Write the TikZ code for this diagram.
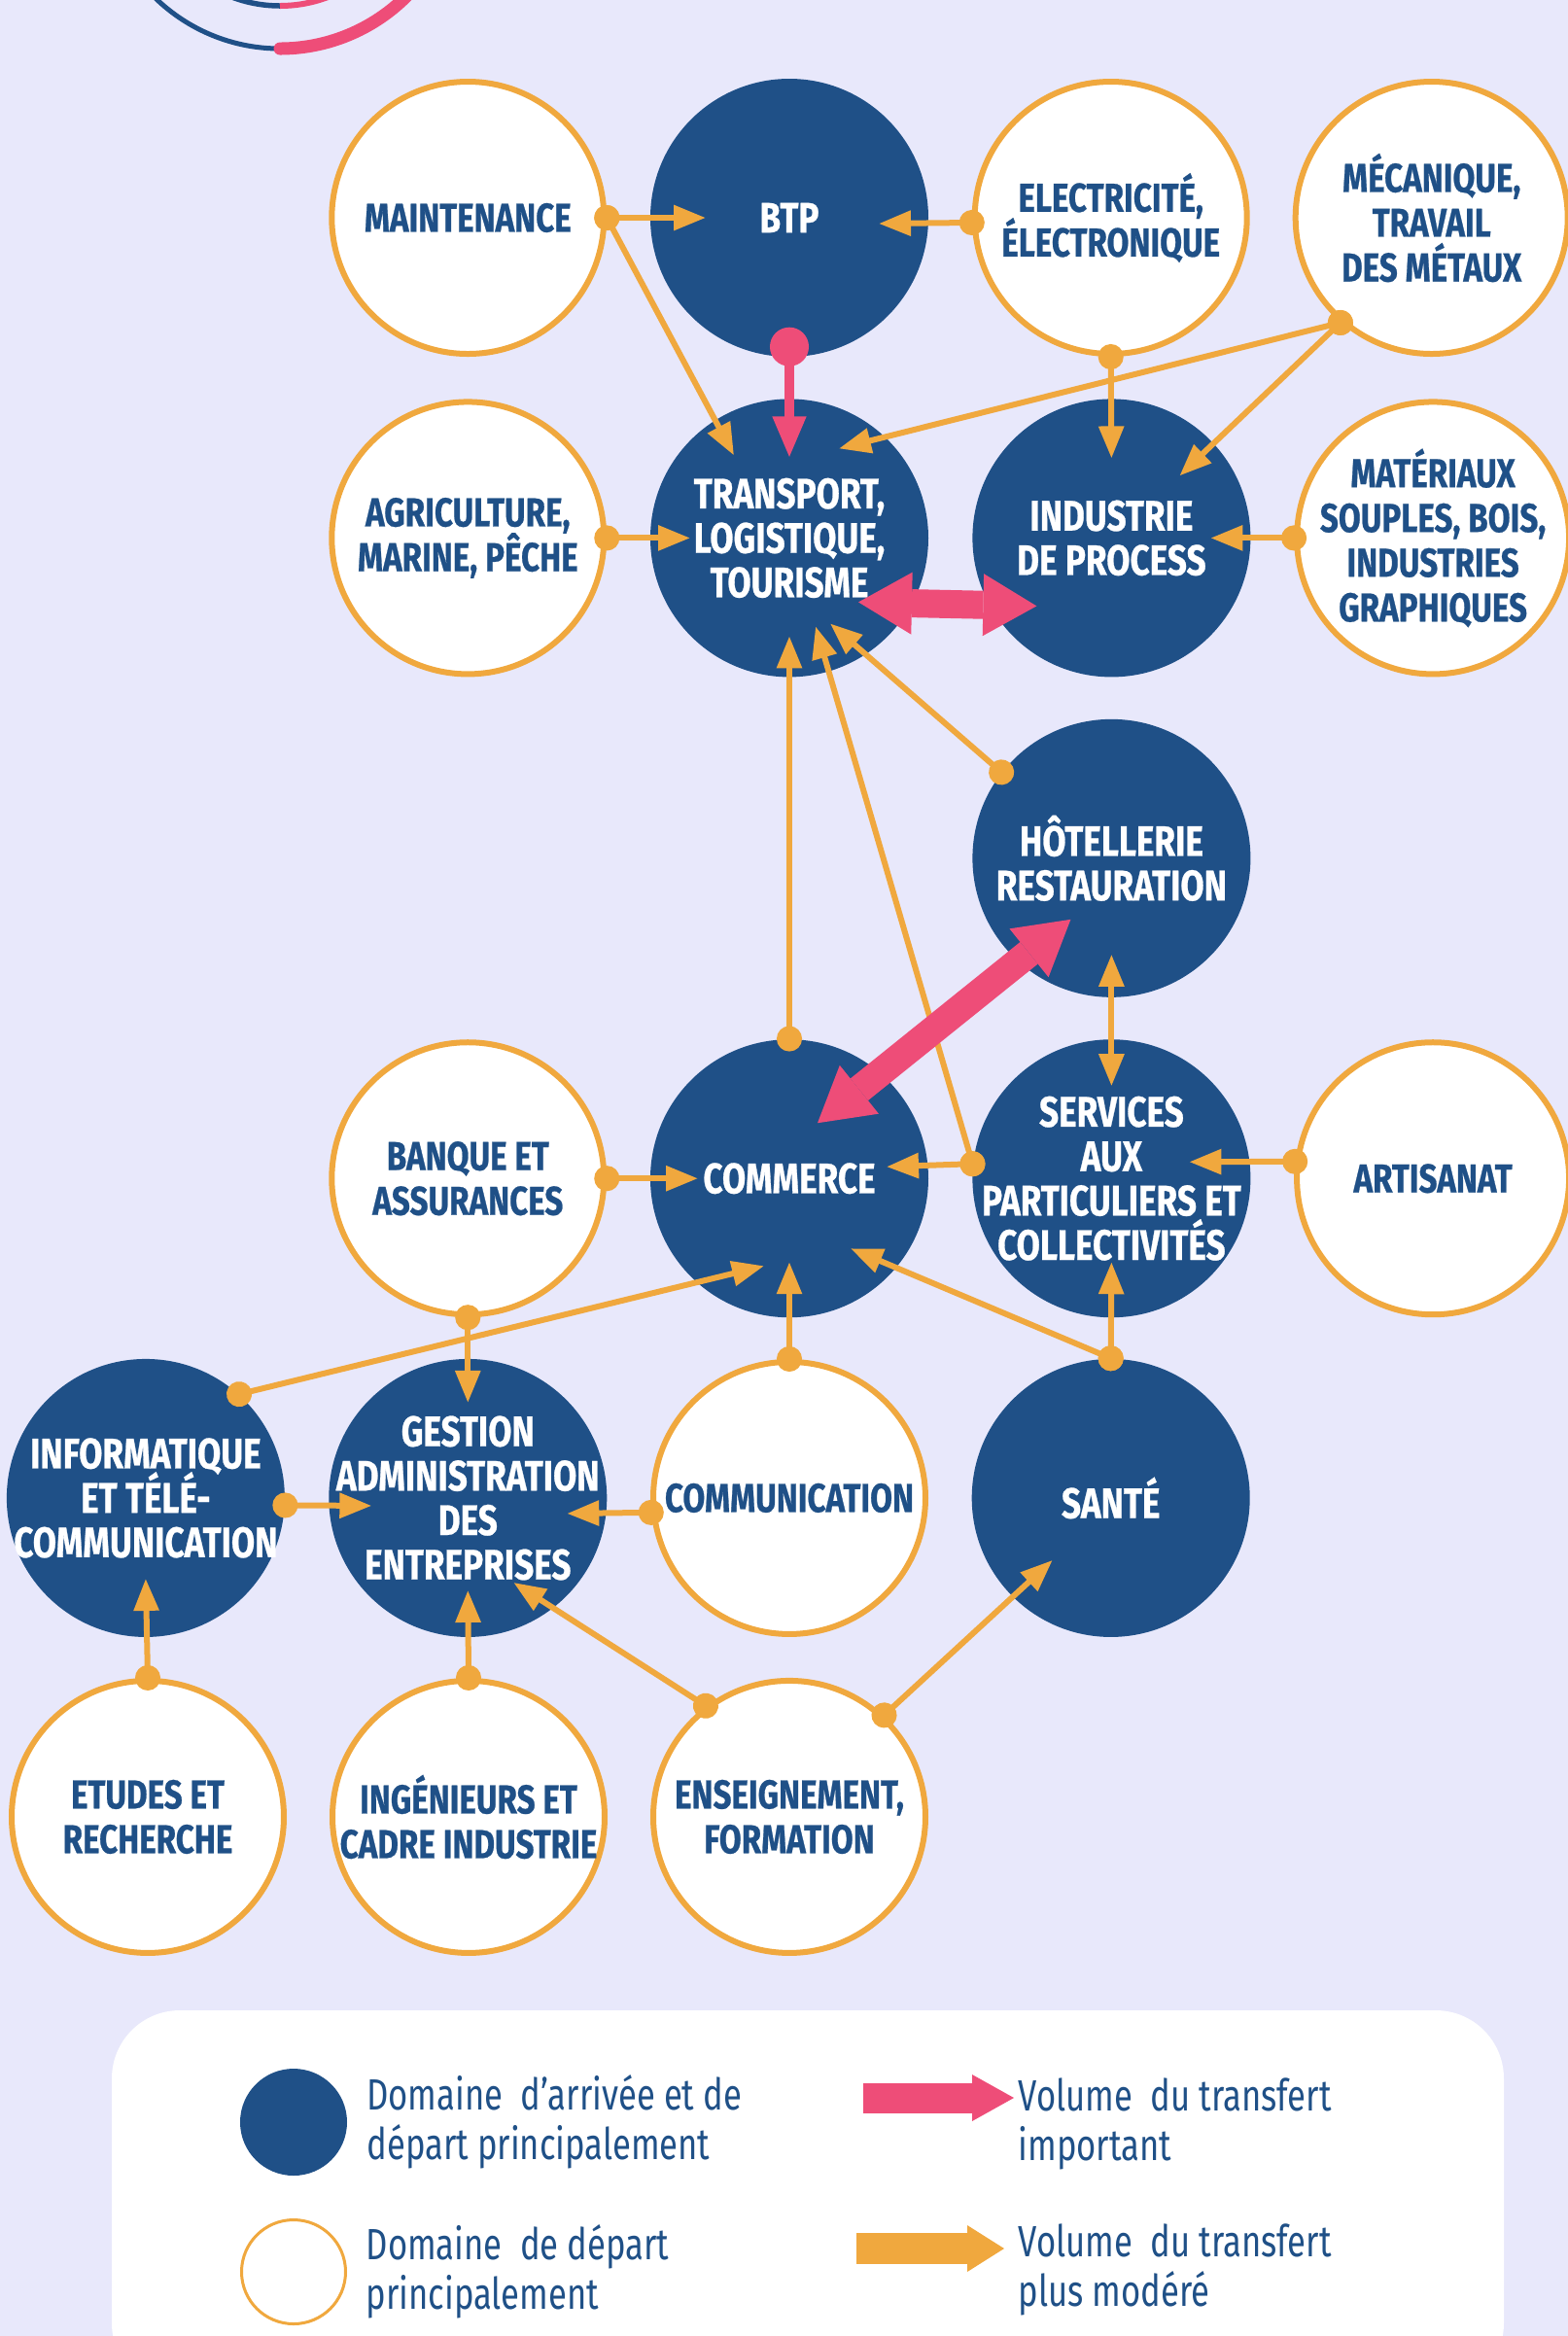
\documentclass[tikz,border=0pt]{standalone}
\usepackage{fontspec}
\usepackage{tikz}
\usetikzlibrary{positioning}
\usetikzlibrary{calc}
\usetikzlibrary{arrows.meta}
\newfontfamily\labfont[FakeStretch=0.80, BoldFeatures={FakeBold=0.6}]{Fira Sans}
\newfontfamily\legfont[FakeStretch=0.77]{Fira Sans}
\newcommand{\darklab}{\labfont\bfseries\fontsize{12.5}{13}\selectfont\lineskiplimit-10pt\relax}
\newcommand{\lightlab}{\labfont\bfseries\fontsize{11.8}{13.1}\selectfont\lineskiplimit-10pt\relax}
\definecolor{lav}{RGB}{232,232,251}
\definecolor{navy}{RGB}{31,80,135}
\definecolor{amber}{RGB}{240,168,62}
\definecolor{rose}{RGB}{238,77,120}

\begin{document}
\begin{tikzpicture}[node distance=4.2mm and 4.4mm,
        dom/.style={circle, inner sep=-5mm, align=center},
        darkdom/.style={dom, fill=navy, text=white, minimum size=28.6mm, font=\darklab},
        lightdom/.style={dom, draw=amber, line width=0.6mm, fill=white, text=navy, minimum size=28mm, font=\lightlab},
        moderate/.style={draw=amber, line width=0.6mm, {Circle[length=2.6mm]}-{Triangle[length=3.3mm,width=2.5mm]}, shorten <=-1.3mm},
        twoway/.style={draw=amber, line width=0.6mm, {Triangle[length=3.3mm,width=2.5mm]}-{Triangle[length=3.3mm,width=2.5mm]}},
        major/.style={draw=rose, line width=1mm, {Circle[length=4mm]}-{Triangle[length=4.3mm,width=3.2mm]}, shorten <=-3.1mm},
        majortwo/.style={draw=rose, line width=2.9mm, {Triangle[length=5.5mm,width=6.4mm,line width=0pt]}-{Triangle[length=5.5mm,width=6.4mm,line width=0pt]}},
        legtext/.style={anchor=west, inner sep=0pt, align=left, text=navy, font=\legfont\fontsize{12.8}{14.6}\selectfont}]
            \useasboundingbox (0,0) rectangle (16.13,-24.03);
            \fill[lav] (0,0) rectangle (16.13,-24.03);

            \draw[navy, line width=0.5mm] (2.88,1.34) ++(200:1.84) arc (200:270:1.84);
            \draw[rose, line width=1.3mm, line cap=round] (2.88,1.34) ++(270:1.84) arc (270:340:1.84);
            \draw[navy, line width=0.55mm] (2.88,1.34) ++(200:1.40) arc (200:270:1.40);
            \draw[rose, line width=0.6mm] (2.88,1.34) ++(270:1.40) arc (270:340:1.40);

            \node[darkdom] (btp) at (8.12,-2.24) {BTP};
            \node[lightdom, left=of btp] (maint) {MAINTENANCE};
            \node[lightdom, right=of btp] (elec) {ELECTRICITÉ,\\ÉLECTRONIQUE};
            \node[lightdom, right=of elec] (meca) {MÉCANIQUE,\\TRAVAIL\\DES MÉTAUX};
            \node[darkdom, below=of btp] (transp) {TRANSPORT,\\LOGISTIQUE,\\TOURISME};
            \node[lightdom, left=of transp] (agri) {AGRICULTURE,\\MARINE, PÊCHE};
            \node[darkdom, right=of transp] (indus) {INDUSTRIE\\DE PROCESS};
            \node[lightdom, right=of indus] (mater) {MATÉRIAUX\\SOUPLES, BOIS,\\INDUSTRIES\\GRAPHIQUES};
            \node[darkdom, below=of indus] (hotel) {HÔTELLERIE\\RESTAURATION};
            \node[darkdom, below=of hotel] (serv) {SERVICES\\AUX\\PARTICULIERS ET\\COLLECTIVITÉS};
            \node[darkdom, left=of serv] (comm) {COMMERCE};
            \node[lightdom, left=of comm] (banque) {BANQUE ET\\ASSURANCES};
            \node[lightdom, right=of serv] (artis) {ARTISANAT};
            \node[lightdom, below=of comm] (commu) {COMMUNICATION};
            \node[darkdom, left=of commu] (gest) {GESTION\\ADMINISTRATION\\DES\\ENTREPRISES};
            \node[darkdom, left=of gest] (info) {INFORMATIQUE\\ET TÉLÉ-\\COMMUNICATION};
            \node[darkdom, right=of commu] (sante) {SANTÉ};
            \node[lightdom, below=of commu] (enseig) {ENSEIGNEMENT,\\FORMATION};
            \node[lightdom, left=of enseig] (ingen) {INGÉNIEURS ET\\CADRE INDUSTRIE};
            \node[lightdom, left=of ingen] (etudes) {ETUDES ET\\RECHERCHE};

            \draw[moderate] (maint.east) -- ($(btp)+(-0.86,0)$);
            \draw[moderate] (maint.east) -- ($(transp)+(-0.57,0.85)$);
            \draw[moderate] (elec.182) -- ($(btp)+(0.92,-0.06)$);
            \draw[moderate] (elec.south) -- ($(indus)+(0,0.82)$);
            \draw[moderate] (meca.229) -- ($(transp)+(0.51,0.92)$);
            \draw[moderate] (meca.229) -- ($(indus)+(0.70,0.64)$);
            \draw[moderate] (agri.east) -- ($(transp)+(-1.02,0)$);
            \draw[moderate] (mater.west) -- ($(indus)+(1.02,0)$);
            \draw[moderate] (hotel.142) -- ($(transp)+(0.42,-0.88)$);
            \draw[moderate] (comm.north) -- ($(transp)+(0,-1.01)$);
            \draw[moderate] (serv.174) -- ($(transp)+(0.27,-0.91)$);
            \draw[twoway] ($(hotel)+(0,-0.99)$) -- ($(serv)+(0,0.95)$);
            \draw[moderate] (banque.east) -- ($(comm)+(-0.94,0)$);
            \draw[moderate] (serv.174) -- ($(comm)+(1.00,0.12)$);
            \draw[moderate] (artis.173) -- ($(serv)+(0.80,0.17)$);
            \draw[moderate] (banque.south) -- ($(gest)+(0,0.98)$);
            \draw[moderate] (info.48) -- ($(comm)+(-0.26,-0.90)$);
            \draw[moderate] (commu.north) -- ($(comm)+(0,-0.86)$);
            \draw[moderate] (sante.north) -- ($(comm)+(0.63,-0.72)$);
            \draw[moderate] (sante.north) -- ($(serv)+(0,-0.86)$);
            \draw[moderate] (info.-3) -- ($(gest)+(-0.99,-0.08)$);
            \draw[moderate] (commu.186) -- ($(gest)+(1.02,-0.16)$);
            \draw[moderate] (etudes.north) -- ($(info)+(0,-0.83)$);
            \draw[moderate] (ingen.north) -- ($(gest)+(0,-0.95)$);
            \draw[moderate] (enseig.127) -- ($(gest)+(0.47,-0.87)$);
            \draw[moderate] (enseig.47) -- ($(sante)+(-0.60,-0.64)$);

            \draw[major] (btp.south) -- ($(transp)+(0,0.82)$);
            \draw[majortwo] ($(transp)+(0.71,-0.66)$) -- ($(indus)+(-0.77,-0.70)$);
            \draw[majortwo] ($(hotel)+(-0.42,-0.63)$) -- ($(comm)+(0.29,0.57)$);

            \fill[white, rounded corners=7mm] (1.15,-20.68) rectangle (15.47,-24.6);
            \node[circle, fill=navy, minimum size=11mm, inner sep=0pt] (keydark) at (3.02,-21.83) {};
            \node[legtext, right=1.9mm of keydark] (keydarktxt) {Domaine\ \ d’arrivée et de\\départ principalement};
            \node[circle, draw=amber, line width=0.3mm, fill=white, minimum size=10.7mm, inner sep=0pt] (keylight) at (3.02,-23.37) {};
            \node[legtext, right=1.9mm of keylight] (keylighttxt) {Domaine\ \ de départ\\principalement};
            \node[legtext] (keybigtxt) at (10.47,-21.85) {Volume\ \ du transfert\\important};
            \node[legtext] (keysmalltxt) at (10.47,-23.35) {Volume\ \ du transfert\\plus modéré};
            \coordinate (keybigfrom) at (8.88,-21.58);
            \coordinate (keybigto) at (10.43,-21.58);
            \coordinate (keysmallfrom) at (8.81,-23.13);
            \coordinate (keysmallto) at (10.33,-23.13);
            \draw[rose, line width=3.1mm, -{Triangle[length=4.3mm,width=4.8mm,line width=0pt]}] (keybigfrom) -- (keybigto);
            \draw[amber, line width=3.2mm, -{Triangle[length=3.8mm,width=4.8mm,line width=0pt]}] (keysmallfrom) -- (keysmallto);
        \end{tikzpicture}
\end{document}
